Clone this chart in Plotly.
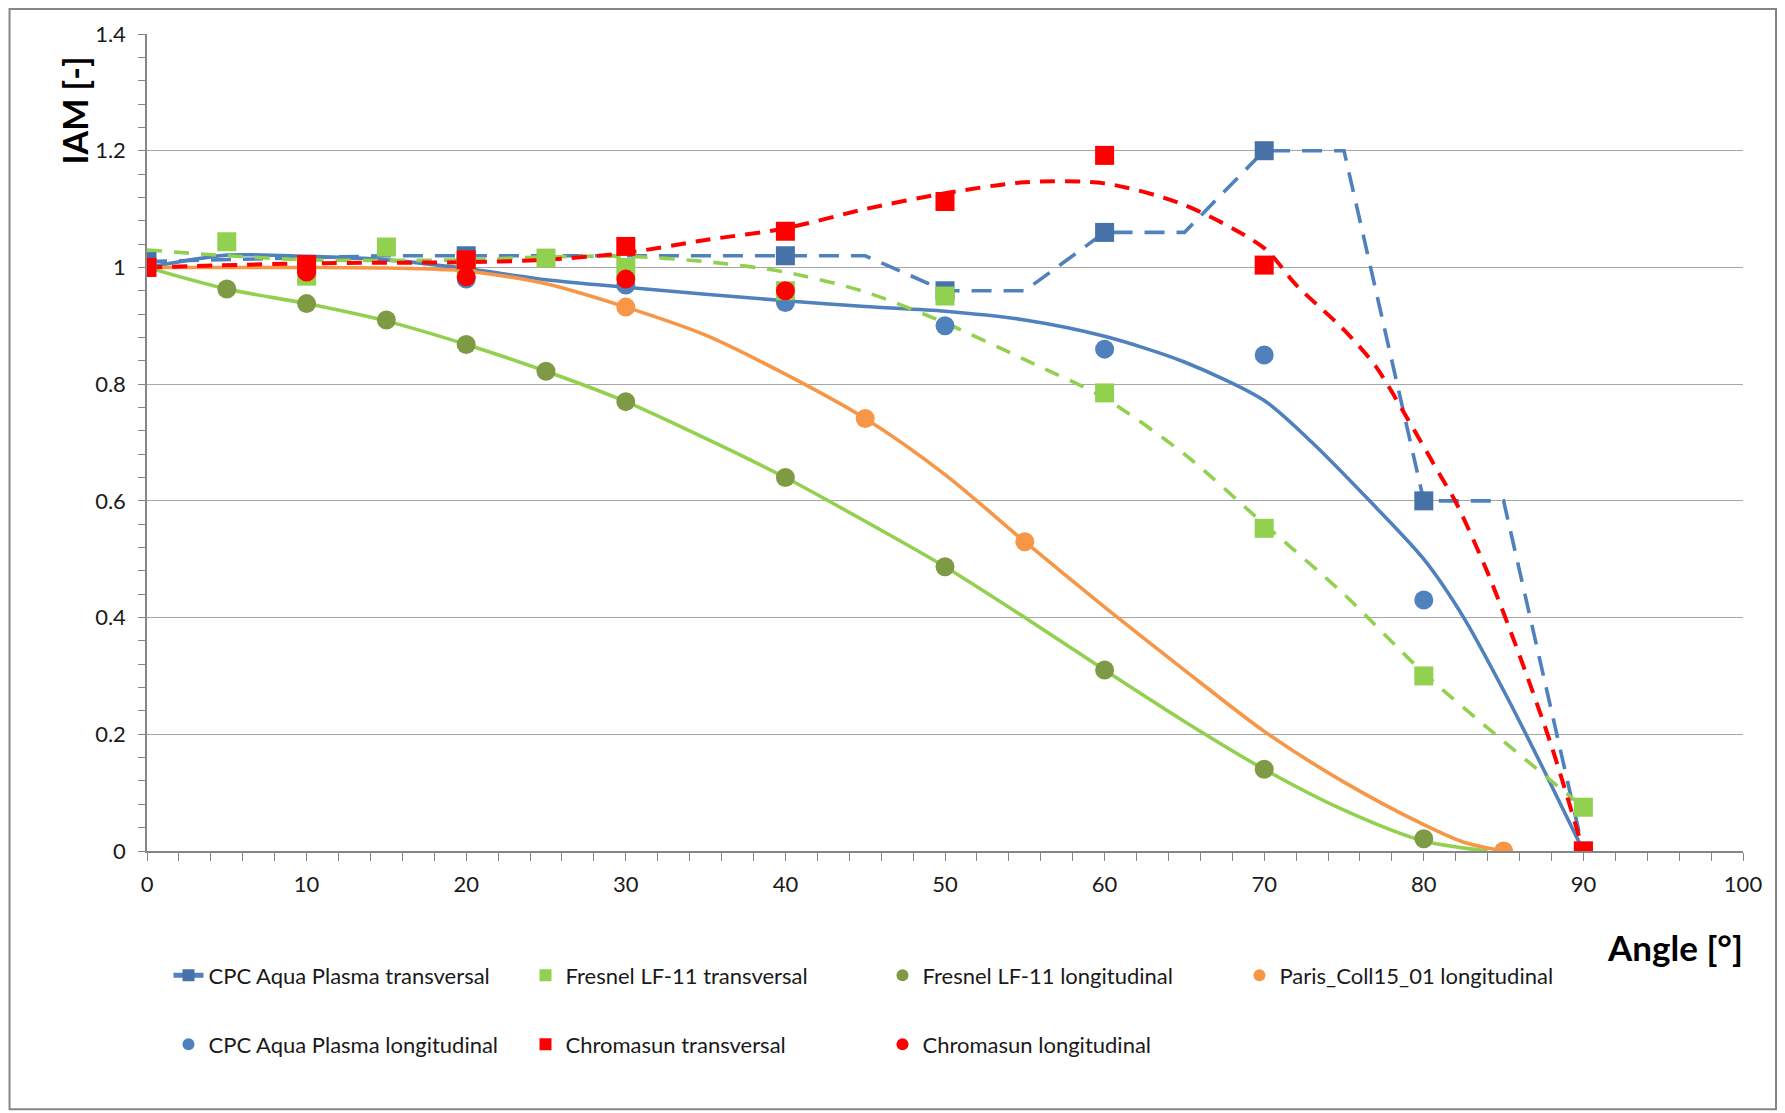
import plotly.graph_objects as go

# ---------------- data ----------------
# measured points
cpc_trans_x = [0, 20, 40, 50, 60, 70, 80, 90]
cpc_trans_y = [1.01, 1.02, 1.02, 0.96, 1.06, 1.20, 0.60, 0.00]

cpc_trans_line_x = [0, 15, 45, 50, 55, 60, 65, 70, 75, 80, 85, 90]
cpc_trans_line_y = [1.01, 1.02, 1.02, 0.96, 0.96, 1.06, 1.06, 1.20, 1.20, 0.60, 0.60, 0.00]

cpc_long_x = [0, 20, 30, 40, 50, 60, 70, 80]
cpc_long_y = [1.00, 0.98, 0.97, 0.94, 0.90, 0.86, 0.85, 0.43]

fresnel_trans_x = [5, 10, 15, 20, 25, 30, 40, 50, 60, 70, 80, 90]
fresnel_trans_y = [1.044, 0.985, 1.035, 1.005, 1.016, 1.00, 0.96, 0.951, 0.785, 0.553, 0.30, 0.075]

fresnel_long_x = [0, 5, 10, 15, 20, 25, 30, 40, 50, 60, 70, 80]
fresnel_long_y = [1.00, 0.963, 0.938, 0.910, 0.868, 0.822, 0.770, 0.640, 0.487, 0.310, 0.140, 0.021]

paris_long_x = [0, 30, 45, 55, 85]
paris_long_y = [1.00, 0.932, 0.741, 0.530, 0.00]

chromasun_trans_x = [0, 10, 20, 30, 40, 50, 60, 70, 90]
chromasun_trans_y = [1.00, 1.005, 1.013, 1.036, 1.062, 1.113, 1.192, 1.004, 0.00]

chromasun_long_x = [10, 20, 30, 40]
chromasun_long_y = [0.992, 0.984, 0.980, 0.960]

# fitted curves
fit_cpc_long_x = [0, 5, 10, 15, 20, 25, 30, 35, 40, 45, 50, 55, 60, 65, 70, 73, 76.5, 80, 82.5, 85, 87.5, 90]
fit_cpc_long_y = [1.0, 1.021, 1.019, 1.013, 0.998, 0.979, 0.966, 0.954, 0.943, 0.933, 0.925, 0.910, 0.882,
                  0.838, 0.772, 0.70, 0.603, 0.50, 0.40, 0.275, 0.14, 0.0]

fit_fresnel_long_x = [0, 5, 10, 15, 20, 25, 30, 35, 40, 45, 50, 55, 60, 65, 70, 75, 80, 84]
fit_fresnel_long_y = [1.0, 0.963, 0.938, 0.908, 0.868, 0.822, 0.770, 0.707, 0.640, 0.565, 0.487, 0.40,
                      0.310, 0.222, 0.140, 0.070, 0.017, 0.0]

fit_paris_x = [0, 10, 15, 20, 25, 30, 35, 40, 45, 50, 55, 60, 65, 70, 75, 80, 82.5, 85]
fit_paris_y = [1.0, 1.0, 0.999, 0.994, 0.972, 0.932, 0.884, 0.817, 0.741, 0.645, 0.530, 0.418, 0.310,
               0.205, 0.118, 0.045, 0.015, 0.0]

fit_fresnel_trans_x = [0, 5, 10, 15, 20, 25, 30, 35, 40, 45, 50, 55, 60, 65, 70, 75, 80, 85, 90]
fit_fresnel_trans_y = [1.03, 1.02, 1.013, 1.012, 1.013, 1.018, 1.019, 1.01, 0.992, 0.958, 0.905, 0.842,
                       0.776, 0.68, 0.56, 0.44, 0.305, 0.188, 0.075]

fit_chromasun_trans_x = [0, 10, 20, 25, 30, 35, 40, 45, 50, 55, 60, 65, 70, 72, 75, 77, 79, 81, 82, 84,
                         86, 88, 90]
fit_chromasun_trans_y = [1.0, 1.007, 1.009, 1.013, 1.025, 1.047, 1.067, 1.10, 1.127, 1.146, 1.144, 1.107,
                         1.033, 0.97, 0.893, 0.83, 0.74, 0.645, 0.598, 0.477, 0.335, 0.18, 0.0]

x_tick_vals = [0, 10, 20, 30, 40, 50, 60, 70, 80, 90, 100]
y_tick_vals = [0, 0.2, 0.4, 0.6, 0.8, 1.0, 1.2, 1.4]

# ---------------- styling ----------------
W, H = 1785, 1113
OFF = 8  # page body margin offset
L, R, T, B = 146.5 - OFF, 1743.0 - OFF, 34.0 - OFF, 851.5 - OFF
FONT = "Lato"

BLUE = "#4F81BD"
BLUE_SQ = "#4672A8"
GREEN = "#92D050"
OLIVE = "#7F9A45"
ORANGE = "#F79646"
RED = "#FF0000"


def px_x(px):
    """figure-pixel x (as seen in the reference) -> paper coordinate"""
    return (px - OFF - L) / (R - L)


def px_y(py):
    return (B - (py - OFF)) / (B - T)


fig = go.Figure()

# lines (no legend)
fig.add_trace(go.Scatter(x=cpc_trans_line_x, y=cpc_trans_line_y, mode="lines", showlegend=False,
                         line=dict(color=BLUE, width=3.6, dash="20px,12px"), hoverinfo="skip"))
fig.add_trace(go.Scatter(x=fit_cpc_long_x, y=fit_cpc_long_y, mode="lines", showlegend=False,
                         line=dict(color=BLUE, width=3.6, shape="spline", smoothing=0.8), hoverinfo="skip"))
fig.add_trace(go.Scatter(x=fit_fresnel_long_x, y=fit_fresnel_long_y, mode="lines", showlegend=False,
                         line=dict(color=GREEN, width=3.6, shape="spline", smoothing=0.8), hoverinfo="skip"))
fig.add_trace(go.Scatter(x=fit_paris_x, y=fit_paris_y, mode="lines", showlegend=False,
                         line=dict(color=ORANGE, width=3.6, shape="spline", smoothing=0.8), hoverinfo="skip"))
fig.add_trace(go.Scatter(x=fit_fresnel_trans_x, y=fit_fresnel_trans_y, mode="lines", showlegend=False,
                         line=dict(color=GREEN, width=3.6, dash="15px,12px", shape="spline", smoothing=0.8),
                         hoverinfo="skip"))
fig.add_trace(go.Scatter(x=fit_chromasun_trans_x, y=fit_chromasun_trans_y, mode="lines", showlegend=False,
                         line=dict(color=RED, width=4, dash="15px,10px", shape="spline", smoothing=0.8),
                         hoverinfo="skip"))

MS = 19
# markers
fig.add_trace(go.Scatter(x=cpc_long_x, y=cpc_long_y, mode="markers", name="CPC Aqua Plasma longitudinal",
                         legend="legend2", legendrank=1,
                         marker=dict(symbol="circle", size=MS, color=BLUE)))
fig.add_trace(go.Scatter(x=fresnel_long_x, y=fresnel_long_y, mode="markers", name="Fresnel LF-11 longitudinal",
                         legend="legend", legendrank=3,
                         marker=dict(symbol="circle", size=MS, color=OLIVE)))
fig.add_trace(go.Scatter(x=paris_long_x, y=paris_long_y, mode="markers", name="Paris_Coll15_01 longitudinal",
                         legend="legend", legendrank=4,
                         marker=dict(symbol="circle", size=MS, color=ORANGE)))
fig.add_trace(go.Scatter(x=cpc_trans_x, y=cpc_trans_y, mode="markers", showlegend=False,
                         marker=dict(symbol="square", size=MS, color=BLUE_SQ)))
fig.add_trace(go.Scatter(x=[None], y=[None], mode="lines+markers", name="CPC Aqua Plasma transversal",
                         legend="legend", legendrank=1,
                         line=dict(color=BLUE, width=4.5),
                         marker=dict(symbol="square", size=MS, color=BLUE_SQ)))
fig.add_trace(go.Scatter(x=fresnel_trans_x, y=fresnel_trans_y, mode="markers", name="Fresnel LF-11 transversal",
                         legend="legend", legendrank=2,
                         marker=dict(symbol="square", size=MS, color=GREEN)))
fig.add_trace(go.Scatter(x=chromasun_long_x, y=chromasun_long_y, mode="markers", name="Chromasun longitudinal",
                         legend="legend2", legendrank=3,
                         marker=dict(symbol="circle", size=MS, color=RED)))
fig.add_trace(go.Scatter(x=chromasun_trans_x, y=chromasun_trans_y, mode="markers", name="Chromasun transversal",
                         legend="legend2", legendrank=2,
                         marker=dict(symbol="square", size=MS, color=RED)))

legend_common = dict(orientation="h", xanchor="left", yanchor="middle", x=px_x(168),
                     font=dict(family=FONT, size=22, color="#1a1a1a"), entrywidth=312,
                     itemsizing="constant", bgcolor="rgba(0,0,0,0)", traceorder="normal")

AX = "#868686"
fig.update_layout(
    width=W, height=H,
    margin=dict(l=L, r=W - R, t=T, b=H - B, autoexpand=False),
    paper_bgcolor="white", plot_bgcolor="white",
    font=dict(family=FONT, size=22, color="#1a1a1a"),
    legend=dict(**legend_common, y=px_y(976)),
    legend2=dict(**legend_common, y=px_y(1045)),
    xaxis=dict(range=[0, 100], tickvals=x_tick_vals, showgrid=False, zeroline=False,
               showline=True, linecolor=AX, linewidth=1.5,
               ticks="outside", ticklen=8, tickcolor=AX, tickwidth=1.3,
               minor=dict(dtick=2, ticks="outside", ticklen=8, tickcolor=AX, tickwidth=1.3),
               ticklabelstandoff=5, tickfont=dict(family=FONT, size=22, color="#1a1a1a")),
    yaxis=dict(range=[0, 1.4], tickvals=y_tick_vals, showgrid=True, gridcolor="#A6A6A6", gridwidth=1.3,
               zeroline=False, showline=True, linecolor=AX, linewidth=1.5,
               ticks="outside", ticklen=7, tickcolor=AX, tickwidth=1.3,
               minor=dict(dtick=0.04, ticks="outside", ticklen=7, tickcolor=AX, tickwidth=1.3,
                          showgrid=False),
               ticklabelstandoff=8, tickfont=dict(family=FONT, size=22, color="#1a1a1a")),
    shapes=[dict(type="rect", xref="paper", yref="paper", x0=px_x(9), x1=px_x(1776), y0=px_y(9), y1=px_y(1110),
                 line=dict(color=AX, width=2), fillcolor="rgba(0,0,0,0)", layer="below")],
    annotations=[
        dict(text="<b>IAM [-]</b>", xref="paper", yref="paper", x=px_x(74), y=px_y(111), textangle=-90,
             showarrow=False, xanchor="center", yanchor="middle", font=dict(family=FONT, size=34, color="#000")),
        dict(text="<b>Angle [°]</b>", xref="paper", yref="paper", x=px_x(1675), y=px_y(948),
             showarrow=False, xanchor="center", yanchor="middle", font=dict(family=FONT, size=35, color="#000")),
    ],
)

fig.write_html("out.html")
